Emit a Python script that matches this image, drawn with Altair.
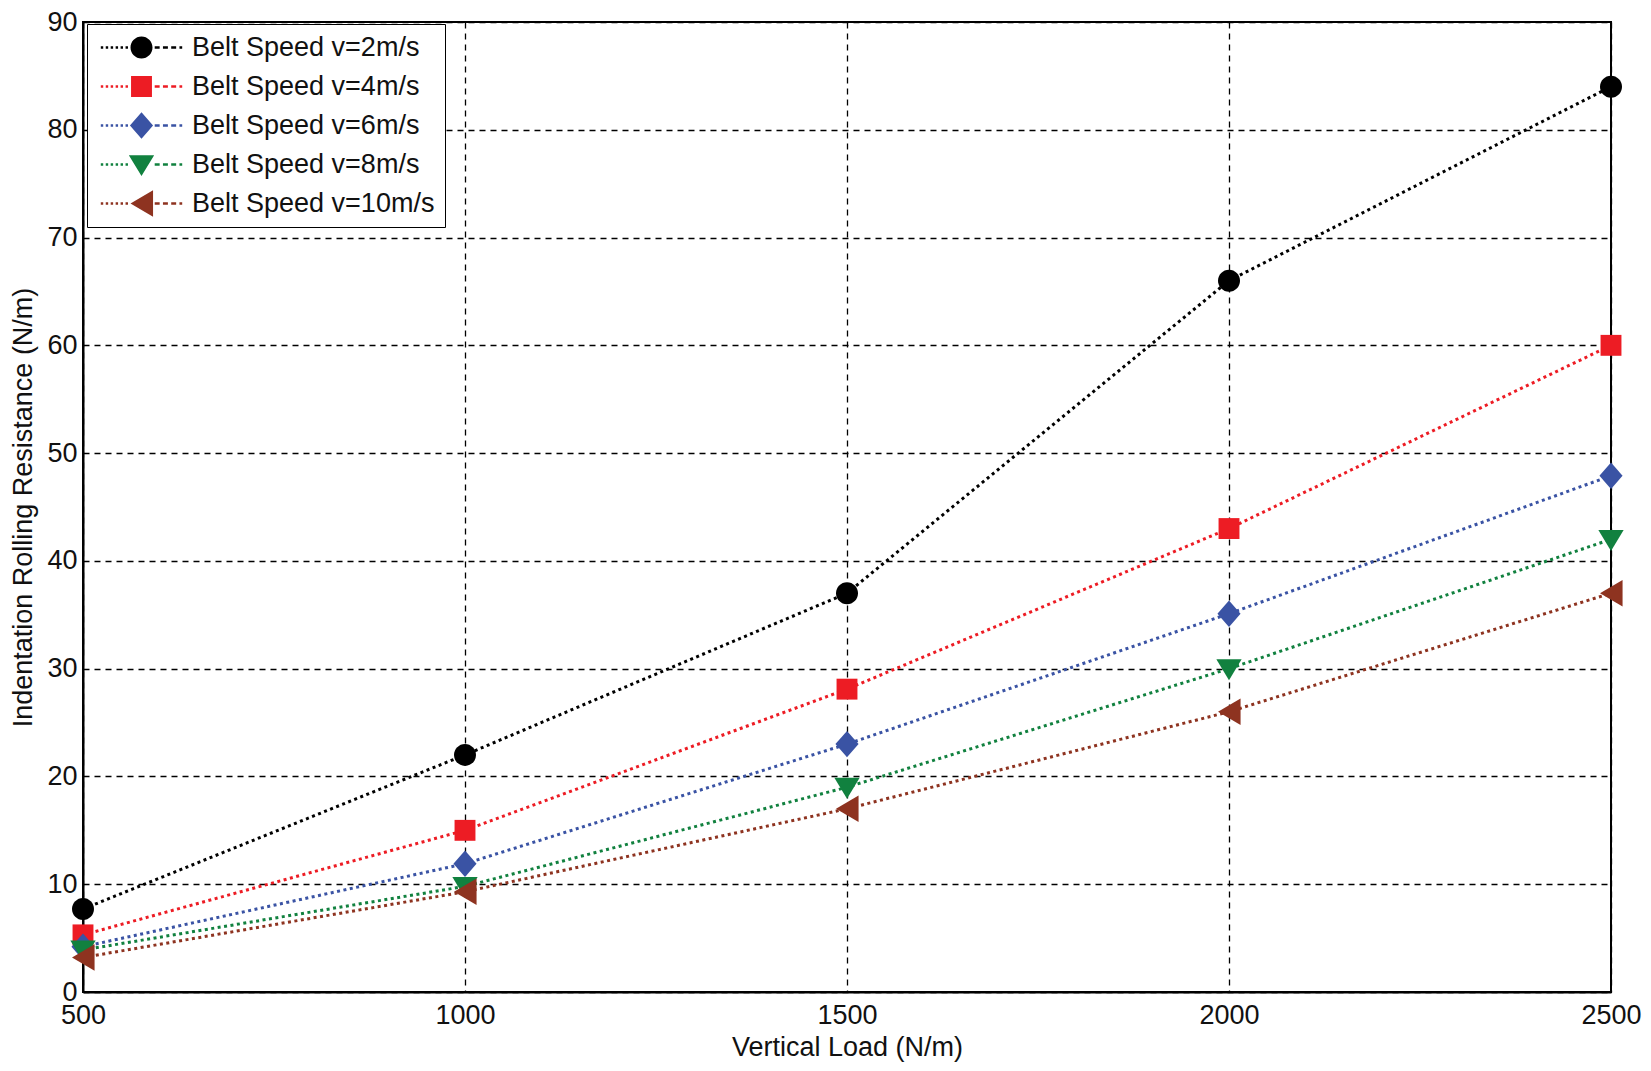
import altair as alt
import pandas as pd

loads = [500, 1000, 1500, 2000, 2500]
series_names = [
    "Belt Speed v=2m/s",
    "Belt Speed v=4m/s",
    "Belt Speed v=6m/s",
    "Belt Speed v=8m/s",
    "Belt Speed v=10m/s",
]
v2 = [7.7, 22.0, 37.0, 66.0, 84.0]
v4 = [5.3, 15.0, 28.1, 43.0, 60.0]
v6 = [4.2, 11.9, 23.0, 35.1, 47.9]
v8 = [3.9, 9.8, 19.0, 30.0, 42.0]
v10 = [3.2, 9.3, 17.0, 26.0, 37.0]
series_values = [v2, v4, v6, v8, v10]

colors = ["#000000", "#ED1C24", "#3A53A4", "#11813F", "#8E3320"]

# marker outlines in unit coordinates (style only)
marker_paths = [
    "M-1,0A1,1,0,1,1,1,0A1,1,0,1,1,-1,0Z",
    "M-0.95,-0.95H0.95V0.95H-0.95Z",
    "M0,-1.2L1.05,0L0,1.2L-1.05,0Z",
    "M-1.15,-0.85L1.15,-0.85L0,1.05Z",
    "M-1,0L1.05,-1.2L1.05,1.2Z",
]


def rect(x0, x1, h=0.12):
    return f"M{x0:.3f},{-h}H{x1:.3f}V{h}H{x0:.3f}Z"


# legend symbol: dotted line left, marker, dashed line right
line_bits = ""
x = -3.7
while x < -1.15:
    line_bits += rect(x, x + 0.22)
    x += 0.45
x = 1.2
while x < 3.6:
    line_bits += rect(x, min(x + 0.45, 3.7))
    x += 0.75
legend_paths = [p + line_bits for p in marker_paths]

rows = []
for name, vals in zip(series_names, series_values):
    for xv, yv in zip(loads, vals):
        rows.append({"load": xv, "resistance": yv, "series": name})
df = pd.DataFrame(rows)

FONT = "Liberation Sans"

x_enc = alt.X(
    "load:Q",
    title="Vertical Load (N/m)",
    scale=alt.Scale(domain=[500, 2500], nice=False, zero=False),
    axis=alt.Axis(values=loads, format="d", labelFlush=False),
)
y_enc = alt.Y(
    "resistance:Q",
    title="Indentation Rolling Resistance (N/m)",
    scale=alt.Scale(domain=[0, 90], nice=False),
    axis=alt.Axis(values=list(range(0, 91, 10)), labelFlush=False, titleX=-46),
)

layers = []
for i, name in enumerate(series_names):
    sub = alt.Chart(df).transform_filter(alt.datum.series == name)
    layers.append(
        sub.mark_line(color=colors[i], strokeWidth=3, strokeDash=[3, 3.5]).encode(x=x_enc, y=y_enc)
    )
for i, name in enumerate(series_names):
    sub = alt.Chart(df).transform_filter(alt.datum.series == name)
    layers.append(
        sub.mark_point(
            color=colors[i], filled=True, opacity=1, size=484, shape=marker_paths[i]
        ).encode(x=x_enc, y=y_enc)
    )

legend = alt.Legend(
    title=None,
    orient="none",
    legendX=4,
    legendY=2,
    strokeColor="#000000",
    fillColor="#ffffff",
    padding=10,
    labelFont=FONT,
    labelFontSize=27,
    labelColor="#111111",
    labelLimit=0,
    symbolSize=484,
    symbolOffset=31,
    labelOffset=37,
    rowPadding=11,
    symbolStrokeWidth=0,
    symbolOpacity=1,
)

legend_layer = (
    alt.Chart(df)
    .transform_filter("false")
    .mark_point(filled=True, opacity=1, size=484)
    .encode(
        x=x_enc,
        y=y_enc,
        color=alt.Color(
            "series:N",
            scale=alt.Scale(domain=series_names, range=colors),
            sort=series_names,
            legend=legend,
        ),
        shape=alt.Shape(
            "series:N",
            scale=alt.Scale(domain=series_names, range=legend_paths),
            sort=series_names,
            legend=legend,
        ),
    )
)
layers.append(legend_layer)

chart = (
    alt.layer(*layers)
    .properties(
        width=1528,
        height=970,
        autosize=alt.AutoSizeParams(type="none"),
        padding={"left": 75, "top": 14, "right": 32, "bottom": 70},
    )
    .configure_view(stroke="#000000", strokeWidth=2)
    .configure_axis(
        grid=True,
        gridColor="#000000",
        gridDash=[6, 5],
        gridWidth=1.3,
        gridOpacity=1,
        domainColor="#000000",
        domainWidth=2,
        ticks=False,
        labelFont=FONT,
        labelFontSize=27,
        labelColor="#111111",
        titleFont=FONT,
        titleFontSize=27,
        titleFontWeight="normal",
        titleColor="#111111",
    )
    .configure_axisX(labelPadding=10, titlePadding=6)
    .configure_axisY(labelPadding=6, titlePadding=0)
)

chart.save("out.html", embed_options={"renderer": "svg", "actions": False})
